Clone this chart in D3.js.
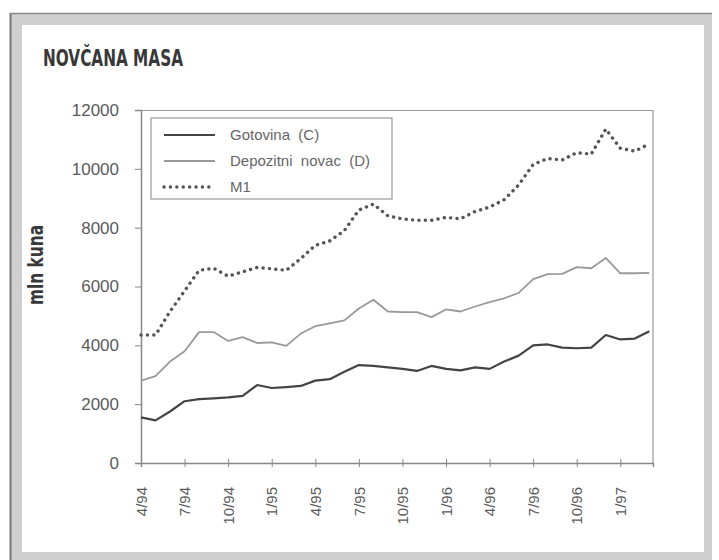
<!DOCTYPE html>
<html>
<head>
<meta charset="utf-8">
<script src="https://cdn.jsdelivr.net/npm/d3@7"></script>
<style>
  body { margin: 0; background: #fff; }
  svg { display: block; }
</style>
</head>
<body>
<div id="chart"></div>
<script>
// monthly values, 4/94 .. 3/97 (mln kuna)
const months = d3.range(36);
const gotovina = [1550, 1450, 1750, 2100, 2170, 2200, 2230, 2280, 2650, 2550, 2580, 2620,
  2800, 2850, 3100, 3330, 3300, 3250, 3200, 3130, 3300, 3200, 3150, 3250,
  3200, 3450, 3650, 4000, 4030, 3920, 3900, 3920, 4350, 4200, 4230, 4480];
const depozitni = [2800, 2950, 3450, 3800, 4450, 4450, 4150, 4280, 4080, 4100, 3980, 4400,
  4650, 4750, 4850, 5250, 5550, 5150, 5130, 5130, 4960, 5220, 5150, 5320,
  5470, 5600, 5780, 6250, 6420, 6430, 6660, 6620, 6970, 6450, 6450, 6460];
const m1 = [4350, 4350, 5150, 5850, 6550, 6620, 6350, 6500, 6650, 6600, 6550, 6950,
  7400, 7550, 7900, 8600, 8800, 8400, 8300, 8250, 8250, 8350, 8300, 8550,
  8700, 8950, 9450, 10150, 10350, 10300, 10550, 10500, 11350, 10700, 10600, 10850];
const tickIdx = [0, 3, 6, 9, 12, 15, 18, 21, 24, 27, 30, 33];
const tickLabels = ["4/94", "7/94", "10/94", "1/95", "4/95", "7/95", "10/95", "1/96", "4/96", "7/96", "10/96", "1/97"];
const yTicks = [0, 2000, 4000, 6000, 8000, 10000, 12000];
const seriesNames = ["Gotovina  (C)", "Depozitni  novac  (D)", "M1"];

const width = 719, height = 560;
const margin = { top: 110, right: 66, bottom: 97, left: 141 };
const innerW = width - margin.left - margin.right;
const innerH = height - margin.top - margin.bottom;

const svg = d3.select("#chart").append("svg")
  .attr("width", width)
  .attr("height", height);

// scanned frame
svg.append("rect").attr("x", 10).attr("y", 13).attr("width", 702).attr("height", 547).attr("fill", "#cfcfcf");
svg.append("rect").attr("x", 22).attr("y", 25).attr("width", 682).attr("height", 527).attr("fill", "#fff");
svg.append("line").attr("x1", 10.5).attr("x2", 10.5).attr("y1", 13).attr("y2", 560).attr("stroke", "#777").attr("stroke-width", 2);
svg.append("line").attr("x1", 10).attr("x2", 712).attr("y1", 13.5).attr("y2", 13.5).attr("stroke", "#888").attr("stroke-width", 1.5);

svg.append("text")
  .attr("x", 43).attr("y", 66)
  .attr("textLength", 140).attr("lengthAdjust", "spacingAndGlyphs")
  .style("font-family", "'Liberation Sans Narrow', 'DejaVu Sans Condensed', sans-serif")
  .style("font-weight", "bold").style("font-size", "23px").attr("fill", "#383838")
  .text("NOVČANA MASA");

svg.append("text")
  .attr("transform", "translate(43,265) rotate(-90)")
  .attr("text-anchor", "middle")
  .attr("textLength", 80).attr("lengthAdjust", "spacingAndGlyphs")
  .style("font-family", "'Liberation Sans Narrow', 'DejaVu Sans Condensed', sans-serif")
  .style("font-weight", "bold").style("font-size", "21px").attr("fill", "#383838")
  .text("mln kuna");

const g = svg.append("g").attr("transform", `translate(${margin.left},${margin.top})`);

const x = d3.scaleLinear().domain([0, 35.25]).range([0, innerW]);
const y = d3.scaleLinear().domain([0, 12000]).range([innerH, 0]);

// plot frame top/right
g.append("path")
  .attr("d", `M0,0.5H${innerW}V${innerH}`)
  .attr("fill", "none").attr("stroke", "#999").attr("stroke-width", 1.2);

const yAxisG = g.append("g")
  .call(d3.axisLeft(y).tickValues(yTicks).tickSize(6).tickPadding(16).tickFormat(d3.format("d")));
yAxisG.select(".domain").attr("stroke", "#888").attr("stroke-width", 1.5);
yAxisG.selectAll(".tick line").attr("stroke", "#888").attr("x2", -6).attr("x1", 1)
  .filter((d) => d === 0 || d === 12000).remove();
yAxisG.selectAll(".tick text")
  .style("font-family", "'Liberation Sans', Arial, sans-serif").style("font-size", "17px").attr("fill", "#5a5a5a");

const xAxisG = g.append("g").attr("transform", `translate(0,${innerH})`)
  .call(d3.axisBottom(x).tickValues(tickIdx).tickSizeOuter(0).tickSize(4)
    .tickFormat((d, i) => tickLabels[i]));
xAxisG.select(".domain").attr("stroke", "#888").attr("stroke-width", 1.5);
xAxisG.selectAll(".tick line").attr("stroke", "#888").attr("y1", -4).attr("y2", 4)
  .filter((d) => d === 0).remove();
xAxisG.selectAll(".tick text")
  .attr("transform", "rotate(-90)")
  .attr("text-anchor", "end")
  .attr("x", -24).attr("y", 0).attr("dy", "0.35em")
  .style("font-family", "'Liberation Sans', Arial, sans-serif").style("font-size", "15px").attr("fill", "#5a5a5a");

const line = (vals) => d3.line().x((d) => x(d)).y((d) => y(vals[d]))(months);

const styles = [
  { vals: gotovina, stroke: "#444", width: 2.2, dash: null, cap: "butt" },
  { vals: depozitni, stroke: "#999", width: 1.8, dash: null, cap: "butt" },
  { vals: m1, stroke: "#555", width: 3.4, dash: "0.1,6.3", cap: "round" },
];

g.selectAll("path.series")
  .data(styles)
  .join("path")
  .attr("class", "series")
  .attr("d", (s) => line(s.vals))
  .attr("fill", "none")
  .attr("stroke", (s) => s.stroke)
  .attr("stroke-width", (s) => s.width)
  .attr("stroke-dasharray", (s) => s.dash)
  .attr("stroke-linecap", (s) => s.cap)
  .attr("stroke-linejoin", "round");

// legend
const legend = g.append("g").attr("transform", "translate(10,8)");
legend.append("rect")
  .attr("width", 241).attr("height", 81)
  .attr("fill", "#fff").attr("stroke", "#999").attr("stroke-width", 1.2);
const items = legend.selectAll("g.item").data(styles).join("g")
  .attr("class", "item")
  .attr("transform", (d, i) => `translate(0,${17 + i * 26})`);
items.append("line")
  .attr("x1", 13).attr("x2", 64)
  .attr("stroke", (s) => s.stroke)
  .attr("stroke-width", (s) => s.width)
  .attr("stroke-dasharray", (s) => s.dash)
  .attr("stroke-linecap", (s) => s.cap);
items.append("text")
  .attr("x", 79).attr("dy", "0.35em")
  .style("white-space", "pre")
  .style("font-family", "'Liberation Sans', Arial, sans-serif").style("font-size", "15px").attr("fill", "#666")
  .text((d, i) => seriesNames[i]);
</script>
</body>
</html>
